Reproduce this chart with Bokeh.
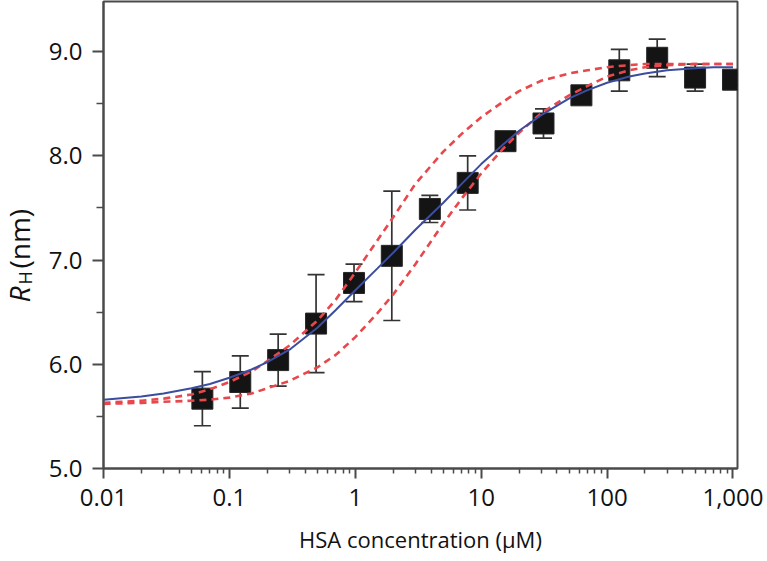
import math
from bokeh.plotting import figure
from bokeh.layouts import row
from bokeh.models import ColumnDataSource, Whisker, TeeHead, FixedTicker
from bokeh.core.properties import value
from bokeh.embed import file_html
from bokeh.resources import INLINE

# measured points: HSA concentration (uM), hydrodynamic radius (nm), error
conc = [0.061, 0.122, 0.244, 0.488, 0.977, 1.95, 3.91, 7.81, 15.6, 31.25, 62.5, 125, 250, 500, 1000]
rh = [5.67, 5.83, 6.04, 6.39, 6.78, 7.04, 7.49, 7.74, 8.14, 8.31, 8.58, 8.82, 8.94, 8.75, 8.73]
rh_err = [0.26, 0.25, 0.25, 0.47, 0.18, 0.62, 0.13, 0.26, 0.06, 0.14, 0.06, 0.20, 0.18, 0.13, 0.05]

# fitted curve (blue) and bounding curves (red dashed)
fit_x = [0.01, 0.02, 0.03, 0.05, 0.07, 0.1, 0.15, 0.2, 0.3, 0.5, 0.7, 1, 1.5, 2, 3,
         5, 7, 10, 15, 20, 30, 50, 70, 100, 150, 200, 300, 500, 700, 1000]
fit_blue = [5.66, 5.69, 5.72, 5.77, 5.81, 5.87, 5.95, 6.02, 6.14, 6.35, 6.52, 6.71, 6.92, 7.07, 7.29,
            7.55, 7.73, 7.92, 8.11, 8.24, 8.39, 8.55, 8.63, 8.70, 8.76, 8.79, 8.82, 8.84, 8.85, 8.85]
fit_red_hi = [5.63, 5.65, 5.67, 5.71, 5.76, 5.83, 5.93, 6.03, 6.18, 6.42, 6.62, 6.88, 7.19, 7.41, 7.73,
              8.04, 8.21, 8.37, 8.52, 8.62, 8.72, 8.79, 8.82, 8.85, 8.87, 8.88, 8.88, 8.88, 8.88, 8.88]
fit_red_lo = [5.62, 5.63, 5.64, 5.65, 5.66, 5.68, 5.72, 5.77, 5.84, 5.97, 6.09, 6.26, 6.49, 6.67, 6.96,
              7.35, 7.59, 7.83, 8.07, 8.22, 8.41, 8.58, 8.67, 8.76, 8.82, 8.85, 8.87, 8.88, 8.88, 8.88]

x_ticks = [0.01, 0.1, 1.0, 10.0, 100.0, 1000.0]
x_tick_labels = ["0.01", "0.1", "1", "10", "100", "1,000"]
y_ticks = [5.0, 6.0, 7.0, 8.0, 9.0]
y_tick_labels = ["5.0", "6.0", "7.0", "8.0", "9.0"]
y_minor = [5.5, 6.5, 7.5, 8.5, 9.5]
x_minor = [m * 10.0 ** e for e in range(-2, 3) for m in range(2, 10)]

AX = "#4a4a4a"
FONT = "Open Sans"
TXT = "#111111"
H = 561
LW = 36          # width of the strip holding the y-axis title
FR_TOP, FR_BOT = 1, 468   # frame edges (page pixels)

# ---------- main plot ----------
p = figure(width=767 - LW, height=H, x_axis_type="log",
           x_range=(0.01, 1086), y_range=(5.0, 9.48),
           output_backend="svg", toolbar_location=None,
           min_border_left=103 - LW, min_border_right=30,
           min_border_top=FR_TOP, min_border_bottom=H - FR_BOT)

p.xgrid.visible = False
p.ygrid.visible = False
p.outline_line_color = AX
p.outline_line_width = 2
p.background_fill_color = "white"
p.border_fill_color = "white"

src = ColumnDataSource(dict(
    x=conc, y=rh,
    lower=[v - e for v, e in zip(rh, rh_err)],
    upper=[v + e for v, e in zip(rh, rh_err)],
))

wh = Whisker(source=src, base="x", lower="lower", upper="upper",
             line_color="#333333", line_width=1.7,
             lower_head=TeeHead(size=17, line_color="#333333", line_width=1.7),
             upper_head=TeeHead(size=17, line_color="#333333", line_width=1.7),
             level="underlay")
p.add_layout(wh)

p.scatter(x="x", y="y", source=src, marker="square", size=21,
          fill_color="#141414", line_color="#262626", line_width=1)

p.line(fit_x, fit_red_hi, line_color="#e8474b", line_width=2.6, line_dash="7 5")
p.line(fit_x, fit_red_lo, line_color="#e8474b", line_width=2.6, line_dash="7 5")
p.line(fit_x, fit_blue, line_color="#3b4d9e", line_width=2)

p.xaxis.ticker = FixedTicker(ticks=x_ticks, minor_ticks=x_minor)
p.xaxis.major_label_overrides = {t: s for t, s in zip(x_ticks, x_tick_labels)}
p.yaxis.ticker = FixedTicker(ticks=y_ticks, minor_ticks=y_minor)
p.yaxis.major_label_overrides = {t: s for t, s in zip(y_ticks, y_tick_labels)}

for ax in (p.xaxis[0], p.yaxis[0]):
    ax.axis_line_color = AX
    ax.axis_line_width = 2
    ax.major_tick_line_color = AX
    ax.major_tick_line_width = 2
    ax.minor_tick_line_color = AX
    ax.minor_tick_line_width = 1.5
    ax.major_tick_in = 0
    ax.minor_tick_in = 0
    ax.major_label_text_font = FONT
    ax.major_label_text_font_size = "24px"
    ax.major_label_text_color = TXT

p.xaxis.major_tick_out = 10
p.xaxis.minor_tick_out = 5
p.xaxis.major_label_standoff = 10
p.xaxis.axis_label = "HSA concentration (μM)"
p.xaxis.axis_label_text_font = FONT
p.xaxis.axis_label_text_font_size = "22px"
p.xaxis.axis_label_text_font_style = "normal"
p.xaxis.axis_label_text_color = TXT
p.xaxis.axis_label_standoff = 15

p.yaxis.major_tick_out = 11
p.yaxis.minor_tick_out = 7
p.yaxis.major_label_standoff = 10

# ---------- strip with the y-axis title: italic R, subscript H, (nm) ----------
# its frame is aligned with the main frame, so the y range maps page rows directly
t = figure(width=LW, height=H, x_range=(0, LW), y_range=(H - FR_BOT, H - FR_TOP),
           output_backend="svg", toolbar_location=None, min_border=0,
           min_border_top=FR_TOP, min_border_bottom=H - FR_BOT,
           x_axis_location=None, y_axis_location=None)
t.outline_line_color = None
t.grid.visible = False
t.background_fill_color = "white"
t.border_fill_color = "white"

common = dict(angle=math.pi / 2, text_font=value(FONT), text_color=TXT,
              text_align="left", text_baseline="middle")
t.text(x=[18], y=[H - 302], text=["R"], text_font_size="28px", text_font_style="italic", **common)
t.text(x=[24], y=[H - 284], text=["H"], text_font_size="18px", **common)
t.text(x=[18], y=[H - 268], text=["(nm)"], text_font_size="28px", **common)

layout = row(t, p)
open("out.html", "w").write(file_html(layout, INLINE))
